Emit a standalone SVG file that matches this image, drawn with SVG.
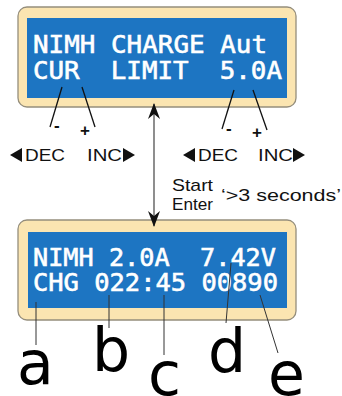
<svg xmlns="http://www.w3.org/2000/svg" width="342" height="396" viewBox="0 0 342 396">
  <style>
    .bezel { fill: #fbe5b1; stroke: #958e7c; stroke-width: 1.3; }
    .lcd { fill: #1d75c2; }
    .lcdtxt { fill: #ffffff; stroke: #ffffff; stroke-width: 0.6; font-family: "DejaVu Sans Mono", "Liberation Mono", monospace; font-size: 25px; white-space: pre; }
    .lbl { fill: #111111; font-family: "Liberation Sans", Arial, sans-serif; font-size: 17px; }
    .sign { fill: #111111; font-family: "Liberation Sans", Arial, sans-serif; font-weight: bold; font-size: 17px; }
    .big { fill: #000000; font-family: "DejaVu Sans", "Noto Sans", sans-serif; font-size: 60px; }
    .lead { stroke: #111111; stroke-width: 1.3; fill: none; }
    .thin { stroke: #333333; stroke-width: 1; fill: none; }
    .tri { fill: #111111; }
  </style>
  <defs>
    <marker id="ah" viewBox="0 0 16 12" refX="15" refY="6" markerWidth="16" markerHeight="12" markerUnits="userSpaceOnUse" orient="auto-start-reverse">
      <path d="M16 6 L0 0 L5 6 L0 12 Z" fill="#111111"/>
    </marker>
  </defs>

  <g id="panel-setting">
    <rect class="bezel" x="18" y="7" width="278" height="100" rx="9"/>
    <rect class="lcd" x="27" y="18" width="260" height="80"/>
    <text class="lcdtxt" x="33" y="53" textLength="234" lengthAdjust="spacingAndGlyphs">NIMH CHARGE Aut</text>
    <text class="lcdtxt" x="33" y="79" textLength="249" lengthAdjust="spacingAndGlyphs">CUR  LIMIT  5.0A</text>
  </g>

  <g id="panel-charging">
    <rect class="bezel" x="18" y="220" width="278" height="100" rx="9"/>
    <rect class="lcd" x="28" y="232" width="259" height="76"/>
    <text class="lcdtxt" x="33" y="266" textLength="243" lengthAdjust="spacingAndGlyphs">NIMH 2.0A  7.42V</text>
    <text class="lcdtxt" x="33" y="291" textLength="245" lengthAdjust="spacingAndGlyphs">CHG 022:45 00890</text>
  </g>

  <g id="buttons-left">
    <text class="sign" x="54" y="131">-</text>
    <text class="sign" x="80" y="136">+</text>
    <polygon class="tri" points="10,155 22,148 22,162"/>
    <text class="lbl" x="25" y="161" textLength="40" lengthAdjust="spacingAndGlyphs">DEC</text>
    <text class="lbl" x="87" y="161" textLength="35" lengthAdjust="spacingAndGlyphs">INC</text>
    <polygon class="tri" points="123,148 135,155 123,162"/>
  </g>

  <g id="buttons-right">
    <text class="sign" x="226" y="134">-</text>
    <text class="sign" x="252" y="138">+</text>
    <polygon class="tri" points="183,155 195,148 195,162"/>
    <text class="lbl" x="198" y="161" textLength="40" lengthAdjust="spacingAndGlyphs">DEC</text>
    <text class="lbl" x="258" y="161" textLength="35" lengthAdjust="spacingAndGlyphs">INC</text>
    <polygon class="tri" points="293,148 305,155 293,162"/>
  </g>

  <g id="start-enter">
    <text class="lbl" x="172" y="191" textLength="41" lengthAdjust="spacingAndGlyphs">Start</text>
    <text class="lbl" x="172" y="210" textLength="41" lengthAdjust="spacingAndGlyphs">Enter</text>
    <text class="lbl" x="221" y="201" textLength="120" lengthAdjust="spacingAndGlyphs">‘&gt;3 seconds’</text>
  </g>

  <g id="field-labels">
    <text class="big" x="17" y="384">a</text>
    <text class="big" x="92" y="371">b</text>
    <text class="big" x="148" y="395">c</text>
    <text class="big" x="208" y="372">d</text>
    <text class="big" x="268" y="395">e</text>
  </g>

  <g id="connectors">
    <line class="lead" x1="62" y1="87" x2="50" y2="127"/>
    <line class="lead" x1="82" y1="87" x2="95" y2="127"/>
    <line class="lead" x1="234" y1="90" x2="222" y2="129"/>
    <line class="lead" x1="253" y1="90" x2="267" y2="130"/>
    <line stroke="#444444" stroke-width="1.2" x1="154" y1="104" x2="154" y2="226" marker-start="url(#ah)" marker-end="url(#ah)"/>
    <line class="thin" x1="36" y1="302" x2="36" y2="345"/>
    <line class="thin" x1="109" y1="295" x2="109" y2="328"/>
    <line class="thin" x1="164" y1="295" x2="164" y2="355"/>
    <line class="thin" x1="231" y1="263" x2="226" y2="323"/>
    <line class="thin" x1="260" y1="295" x2="278" y2="353"/>
  </g>
</svg>
